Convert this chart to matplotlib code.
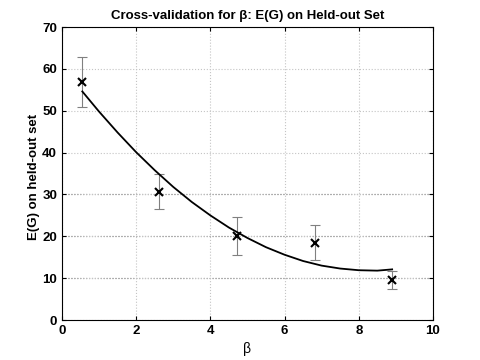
import matplotlib.pyplot as plt

plt.rcParams['font.family'] = ['Liberation Sans', 'DejaVu Sans']

beta = [0.55, 2.62, 4.73, 6.82, 8.9]
heldout_err = [56.9, 30.7, 20.1, 18.5, 9.6]
err_std = [5.9, 4.2, 4.6, 4.1, 2.1]

# fitted curve
fit_beta = [0.55, 1.0, 1.5, 2.0, 2.5, 3.0, 3.5, 4.0, 4.5, 5.0, 5.5, 6.0,
            6.5, 7.0, 7.5, 8.0, 8.5, 8.9]
fit_err = [54.6, 49.8, 44.8, 40.1, 35.8, 31.8, 28.2, 25.0, 22.1, 19.6, 17.4,
           15.6, 14.1, 13.0, 12.3, 11.9, 11.8, 12.1]

x_ticks = [0, 2, 4, 6, 8, 10]
y_ticks = [0, 10, 20, 30, 40, 50, 60, 70]
dark_grid = [10, 20, 30]


def main():
    fig = plt.figure(figsize=(4.8, 3.6), dpi=100)
    ax = fig.add_axes([0.129, 0.111, 0.773, 0.814])

    ax.grid(True, linestyle=':', color='#c4c4c4', linewidth=0.8)
    ax.set_axisbelow(True)
    for yv in dark_grid:
        ax.axhline(yv, linestyle=':', color='#404040', linewidth=0.8,
                   zorder=0.5)

    ax.errorbar(beta, heldout_err, yerr=err_std, fmt='none', ecolor='#808080',
                elinewidth=0.8, capsize=3.5, capthick=0.8)
    ax.plot(fit_beta, fit_err, color='black', linewidth=1.3)
    ax.plot(beta, heldout_err, 'x', color='black', markersize=6, mew=1.5)

    ax.set_xlim(0, 10)
    ax.set_ylim(0, 70)
    ax.set_xticks(x_ticks)
    ax.set_yticks(y_ticks)
    ax.tick_params(direction='in', top=True, right=True, length=3,
                   labelsize=9.5)
    for lbl in ax.get_xticklabels() + ax.get_yticklabels():
        lbl.set_fontweight('bold')
    for s in ax.spines.values():
        s.set_linewidth(0.8)

    ax.set_xlabel('β', fontsize=10)
    ax.set_ylabel('E(G) on held-out set', fontsize=9.5, fontweight='bold')
    ax.yaxis.set_label_coords(-0.059, 0.49)
    ax.set_title('Cross-validation for β: E(G) on Held-out Set',
                 fontsize=9.5, fontweight='bold', pad=6)

    fig.savefig('out.png', dpi=100)


if __name__ == "__main__":
    main()
